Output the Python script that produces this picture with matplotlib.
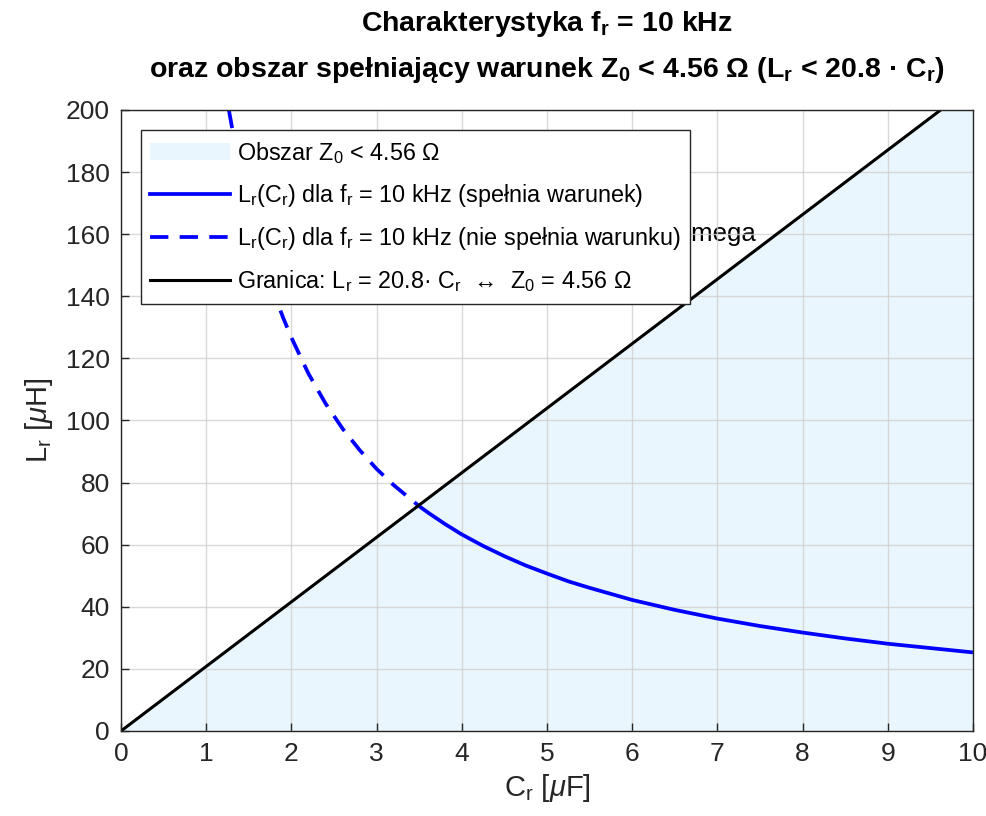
import matplotlib
matplotlib.use("Agg")
import matplotlib.pyplot as plt
from matplotlib.patches import Patch

plt.rcParams['font.family'] = ['Liberation Sans', 'DejaVu Sans']
plt.rcParams['mathtext.fontset'] = 'custom'
plt.rcParams['mathtext.rm'] = 'Liberation Sans'
plt.rcParams['mathtext.it'] = 'Liberation Sans:italic'
plt.rcParams['mathtext.bf'] = 'Liberation Sans:bold'

# Data (C in uF, L in uH)
c_dashed = [1.266, 1.3, 1.4, 1.5, 1.6, 1.7, 1.8, 1.9, 2.0, 2.2, 2.4, 2.6, 2.8, 3.0, 3.2, 3.49]
l_dashed = [200, 194.8, 180.9, 168.9, 158.3, 149.0, 140.7, 133.3, 126.7, 115.1, 105.5, 97.4, 90.5, 84.4, 79.2, 72.6]
c_solid = [3.49, 3.6, 3.8, 4.0, 4.25, 4.5, 4.75, 5.0, 5.25, 5.5, 6.0, 6.5, 7.0, 7.5, 8.0, 8.5, 9.0, 9.5, 10.0]
l_solid = [72.6, 70.4, 66.7, 63.3, 59.6, 56.3, 53.3, 50.7, 48.2, 46.1, 42.2, 39.0, 36.2, 33.8, 31.7, 29.8, 28.1, 26.7, 25.3]
c_bound = [0, 9.62]
l_bound = [0, 200]
c_region = [0, 9.62, 10, 10]
l_region = [0, 200, 200, 0]
xticks = list(range(0, 11))
yticks = list(range(0, 201, 20))

fig = plt.figure(figsize=(9.87, 8.16), dpi=100)
ax = fig.add_axes([0.1226, 0.1042, 0.8632, 0.761])

ax.fill(c_region, l_region, color='#E9F6FD', lw=0, zorder=1)
ax.plot(c_solid, l_solid, color='#0000FF', lw=2.7, zorder=3, solid_capstyle='butt')
ax.plot(c_dashed, l_dashed, color='#0000FF', lw=2.7, dashes=(4.9, 3.0), zorder=3)
ax.plot(c_bound, l_bound, color='black', lw=2.2, zorder=4)

ax.text(7.45, 160, '\\Omega', ha='right', va='center', fontsize=18.5, zorder=2)

ax.set_xlim(0, 10)
ax.set_ylim(0, 200)
ax.set_xticks(xticks)
ax.set_yticks(yticks)
ax.grid(True, color='#d0d0d0', lw=1.0, zorder=2)
ax.set_axisbelow(False)
for gl in ax.get_xgridlines() + ax.get_ygridlines():
    gl.set_zorder(2)
    gl.set_alpha(0.8)
ax.tick_params(direction='in', length=6, width=1, labelsize=19, colors='#262626', pad=8)
for s in ax.spines.values():
    s.set_color('#262626')
    s.set_linewidth(1.0)
    s.set_zorder(6)

ax.set_xlabel(r'C$_{\mathrm{r}}$ [$\mu$F]', fontsize=21, color='#262626', labelpad=4)
ax.set_ylabel(r'L$_{\mathrm{r}}$ [$\mu$H]', fontsize=21, color='#262626', labelpad=8)

ax.set_title('Charakterystyka f$_{\\mathbf{r}}$ = 10 kHz\n'
             'oraz obszar spełniający warunek Z$_{\\mathbf{0}}$ < 4.56 Ω (L$_{\\mathbf{r}}$ < 20.8 · C$_{\\mathbf{r}}$)',
             fontsize=20.5, fontweight='bold', linespacing=1.7, pad=24)

handles = [
    Patch(facecolor='#E9F6FD', edgecolor='none'),
    plt.Line2D([], [], color='#0000FF', lw=2.7),
    plt.Line2D([], [], color='#0000FF', lw=2.7, dashes=(4.9, 3.0)),
    plt.Line2D([], [], color='black', lw=2.2),
]
labels = [
    'Obszar Z$_{\\mathrm{0}}$ < 4.56 Ω',
    'L$_{\\mathrm{r}}$(C$_{\\mathrm{r}}$) dla f$_{\\mathrm{r}}$ = 10 kHz (spełnia warunek)',
    'L$_{\\mathrm{r}}$(C$_{\\mathrm{r}}$) dla f$_{\\mathrm{r}}$ = 10 kHz (nie spełnia warunku)',
    'Granica: L$_{\\mathrm{r}}$ = 20.8· C$_{\\mathrm{r}}$  ↔  Z$_{\\mathrm{0}}$ = 4.56 Ω',
]
leg = ax.legend(handles, labels, loc='upper left', bbox_to_anchor=(0.023, 0.968),
                fontsize=16.8, frameon=True, fancybox=False, edgecolor='#262626',
                framealpha=1, borderaxespad=0, handlelength=3.4, handletextpad=0.3,
                labelspacing=0.7, borderpad=0.42)
leg.get_frame().set_linewidth(1.0)
leg.set_zorder(5)

fig.savefig('out.png', dpi=100, facecolor='white')
